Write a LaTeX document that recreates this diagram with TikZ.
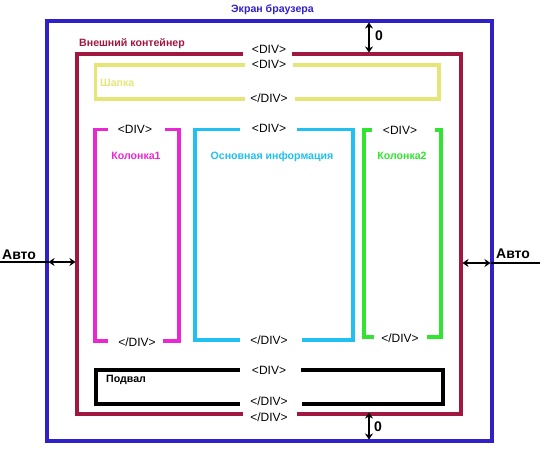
\documentclass[tikz,border=0pt]{standalone}
\usepackage{fontspec}
\setmainfont{Liberation Sans}
\usetikzlibrary{arrows.meta}
\definecolor{cblue}{RGB}{48,32,200}
\definecolor{cmaroon}{RGB}{160,24,64}
\definecolor{cyel}{RGB}{230,230,120}
\definecolor{cmag}{RGB}{232,40,208}
\definecolor{ccyan}{RGB}{32,192,240}
\definecolor{cgreen}{RGB}{48,228,48}
\begin{document}
\begin{tikzpicture}[x=1pt,y=-1pt,
  box/.style={line width=3.6pt},
  divlbl/.style={inner sep=0pt, font=\fontsize{12}{13}\selectfont, text=black},
  lbl/.style={inner sep=0pt, anchor=west, font=\bfseries\fontsize{10.6}{12}\selectfont},
  clbl/.style={inner sep=0pt, font=\bfseries\fontsize{10.6}{12}\selectfont},
  big/.style={inner sep=0pt, font=\bfseries\fontsize{14}{16}\selectfont},
  dim/.style={line width=1.5pt, {Stealth[length=6pt,width=8pt,inset=2pt]}-{Stealth[length=6pt,width=8pt,inset=2pt]}}]
\useasboundingbox (0,0) rectangle (544,453);
% browser screen
\draw[box,cblue] (47,21) rectangle (492,441);
\node[lbl,text=cblue] (screen) at (231,10) {Экран браузера};
% outer container
\draw[box,cmaroon] (243,54) -| (77,414) -- (243,414);
\draw[box,cmaroon] (292,54) -| (461,414) -- (297,414);
\node[lbl,text=cmaroon] (outer) at (79,44) {Внешний контейнер};
\node[divlbl] (d1) at (269,49) {<DIV>};
\node[divlbl] (d8) at (269,417) {</DIV>};
% header
\draw[box,cyel] (245,65) -| (95.5,99) -- (245,99);
\draw[box,cyel] (293,65) -| (439,99) -- (295,99);
\node[lbl,text=cyel] (head) at (100,83) {Шапка};
\node[divlbl] (d2) at (269,64) {<DIV>};
\node[divlbl] (d3) at (269,98) {</DIV>};
% column 1
\draw[box,cmag] (108,129.5) -| (95,341) -- (108,341);
\draw[box,cmag] (165,129.5) -| (179,341) -- (163,341);
\node[clbl,text=cmag] (col1) at (136,156) {Колонка1};
\node[divlbl] (c1a) at (135,129) {<DIV>};
\node[divlbl] (c1b) at (137,342) {</DIV>};
% main
\draw[box,ccyan] (240,129.5) -| (195,340) -- (240,340);
\draw[box,ccyan] (297,129.5) -| (353,340) -- (302,340);
\node[clbl,text=ccyan] (main) at (272,157) {Основная информация};
\node[divlbl] (d4) at (269,128) {<DIV>};
\node[divlbl] (d5) at (269,340) {</DIV>};
% column 2
\draw[box,cgreen] (372,130) -| (364,337) -- (374,337);
\draw[box,cgreen] (435,130) -| (441,337) -- (427,337);
\node[clbl,text=cgreen] (col2) at (402,156) {Колонка2};
\node[divlbl] (c2a) at (400,130) {<DIV>};
\node[divlbl] (c2b) at (400,338) {</DIV>};
% footer
\draw[box,black] (240,370) -| (96,404) -- (240,404);
\draw[box,black] (301,370) -| (443,404) -- (302,404);
\node[lbl,text=black] (foot) at (106,380) {Подвал};
\node[divlbl] (d6) at (269,370) {<DIV>};
\node[divlbl] (d7) at (269,401) {</DIV>};
% dimension arrows
\coordinate (tA) at (369,22.5);
\coordinate (tB) at (369,52.5);
\draw[dim] (tA) -- (tB);
\node[big] (z1) at (379,36) {0};
\coordinate (bA) at (369,412.5);
\coordinate (bB) at (369,439.5);
\draw[dim] (bA) -- (bB);
\node[big] (z2) at (378,427) {0};
\coordinate (lA) at (48.5,262);
\coordinate (lB) at (75.5,262);
\coordinate (lE) at (0,262);
\draw[dim] (lA) -- (lB);
\draw[line width=1.5pt] (lE) -- (lA);
\node[big,anchor=west] (auto1) at (2,254.5) {Авто};
\coordinate (rA) at (462.5,263);
\coordinate (rB) at (490.5,263);
\coordinate (rE) at (540,263);
\draw[dim] (rA) -- (rB);
\draw[line width=1.5pt] (rB) -- (rE);
\node[big,anchor=west] (auto2) at (496,254) {Авто};
\end{tikzpicture}
\end{document}
